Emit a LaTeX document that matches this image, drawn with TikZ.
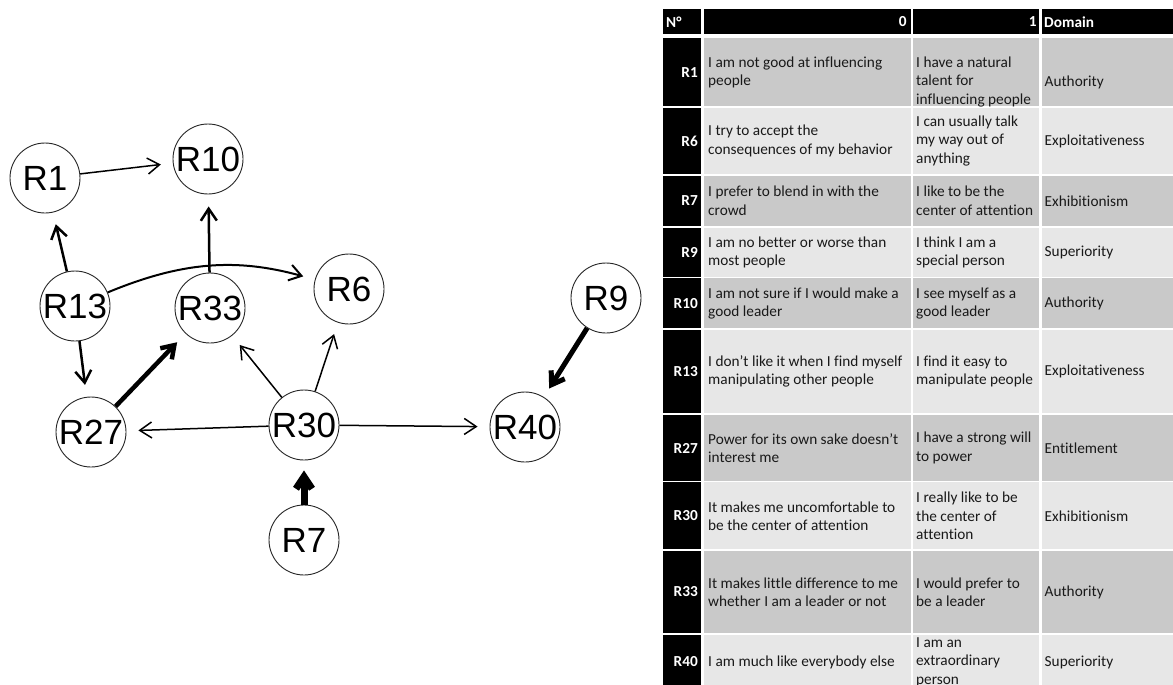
\documentclass[tikz,border=0pt]{standalone}
\usepackage{fontspec}
\setmainfont{Carlito}[Ligatures=NoCommon]
\newfontfamily\graphfont{Liberation Sans}
\usetikzlibrary{arrows.meta}
\definecolor{rowdark}{RGB}{201,201,201}
\definecolor{rowlight}{RGB}{231,231,231}
\definecolor{txt}{RGB}{25,25,25}
\newcommand\myrowbg[3]{%
  \fill[black] (663.3,#1) rectangle (701,#2);
  \fill[#3] (704,#1) rectangle (910.7,#2);
  \fill[#3] (912.7,#1) rectangle (1039.3,#2);
  \fill[#3] (1041.7,#1) rectangle (1173,#2);
}
\newcommand\myrowtext[7]{%
  \node[lab] (#1n) at (698,#2) {#4};
  \node[cell] (#1a) at (708,#2) {#5};
  \node[cell] (#1b) at (916,#3) {#6};
  \node[cell] (#1c) at (1044.5,#3) {#7};
}
\begin{document}
\begin{tikzpicture}[x=1pt,y=-1pt,
  cell/.style={anchor=west,align=left,inner sep=0pt,font=\fontsize{15.3}{18.4}\selectfont,text=txt},
  lab/.style={anchor=east,inner sep=0pt,font=\bfseries\fontsize{15.3}{18.4}\selectfont,text=white},
  hd/.style={inner sep=0pt,font=\bfseries\fontsize{15.3}{18.4}\selectfont,text=white},
  vtx/.style={circle,draw=black!85,line width=0.9pt,minimum size=70pt,inner sep=0pt,font=\graphfont\fontsize{35}{35}\selectfont},
  lk/.style={line width=#1,-{Straight Barb[length=12pt,width=16pt]},shorten >=12pt},
]
\useasboundingbox (0,0) rectangle (1173,685);
\fill[white] (0,0) rectangle (1173,685);
\clip (0,0) rectangle (1173,685);

% ---- table header ----
\fill[black] (663.3,9.3) rectangle (701,34.3);
\fill[black] (704,9.3) rectangle (910.7,34.3);
\fill[black] (912.7,9.3) rectangle (1039.3,34.3);
\fill[black] (1041.7,9.3) rectangle (1173,34.3);
\node[hd,anchor=west] (hN) at (666,22) {N°};
\node[hd,anchor=east] (h0) at (906.7,22) {0};
\node[hd,anchor=east] (h1) at (1036.7,22) {1};
\node[hd,anchor=west] (hD) at (1044,22) {Domain};

% ---- table rows ----
\myrowbg{37.7}{106}{rowdark}
\myrowtext{r1}{72.5}{82}{R1}{I am not good at influencing\\people}{I have a natural\\talent for\\influencing people}{Authority}
\myrowbg{107.7}{174}{rowlight}
\myrowtext{r6}{141}{141}{R6}{I try to accept the\\consequences of my behavior}{I can usually talk\\my way out of\\anything}{Exploitativeness}
\myrowbg{175.7}{225.7}{rowdark}
\myrowtext{r7}{200.8}{200.8}{R7}{I prefer to blend in with the\\crowd}{I like to be the\\center of attention}{Exhibitionism}
\myrowbg{227.5}{276.7}{rowlight}
\myrowtext{r9}{252.5}{252.5}{R9}{I am no better or worse than\\most people}{I think I am a\\special person}{Superiority}
\myrowbg{278.3}{328.3}{rowdark}
\myrowtext{r10}{303.5}{303.5}{R10}{I am not sure if I would make a\\good leader}{I see myself as a\\good leader}{Authority}
\myrowbg{330}{413.3}{rowlight}
\myrowtext{r13}{371.7}{371.7}{R13}{I don’t like it when I find myself\\manipulating other people}{I find it easy to\\manipulate people}{Exploitativeness}
\myrowbg{415}{480.7}{rowdark}
\myrowtext{r27}{448}{448}{R27}{Power for its own sake doesn’t\\interest me}{I have a strong will\\to power}{Entitlement}
\myrowbg{482.3}{549}{rowlight}
\myrowtext{r30}{516}{516}{R30}{It makes me uncomfortable to\\be the center of attention}{I really like to be\\the center of\\attention}{Exhibitionism}
\myrowbg{550.7}{633.3}{rowdark}
\myrowtext{r33}{592}{592}{R33}{It makes little difference to me\\whether I am a leader or not}{I would prefer to\\be a leader}{Authority}
\myrowbg{635}{700}{rowlight}
\myrowtext{r40}{662}{662}{R40}{I am much like everybody else}{I am an\\extraordinary\\person}{Superiority}

% ---- graph ----
\node[vtx] (R1) at (45,178) {R1};
\node[vtx] (R10) at (208,159) {R10};
\node[vtx] (R13) at (75,306) {R13};
\node[vtx] (R33) at (210,308) {R33};
\node[vtx] (R6) at (349,289) {R6};
\node[vtx] (R9) at (606,298) {R9};
\node[vtx] (R27) at (91,432) {R27};
\node[vtx] (R30) at (304,425) {R30};
\node[vtx] (R40) at (525,427) {R40};
\node[vtx] (R7) at (304,540) {R7};

\draw[lk=1.5pt] (R1) -- (R10);
\draw[lk=2.5pt] (R13) -- (R1);
\draw[lk=2.5pt] (R33) -- (R10);
\draw[lk=2pt] (R13) to[bend left=19] (R6);
\draw[lk=2.5pt] (R13) -- (R27);
\draw[lk=4.5pt] (R27) -- (R33);
\draw[lk=1.5pt] (R30) -- (R33);
\draw[lk=1.5pt] (R30) -- (R6);
\draw[lk=1.5pt] (R30) -- (R27);
\draw[lk=1.5pt] (R30) -- (R40);
\draw[lk=7pt,shorten >=10pt] (R7) -- (R30);
\draw[lk=5pt,shorten >=10pt] (R9) -- (R40);
\end{tikzpicture}
\end{document}
